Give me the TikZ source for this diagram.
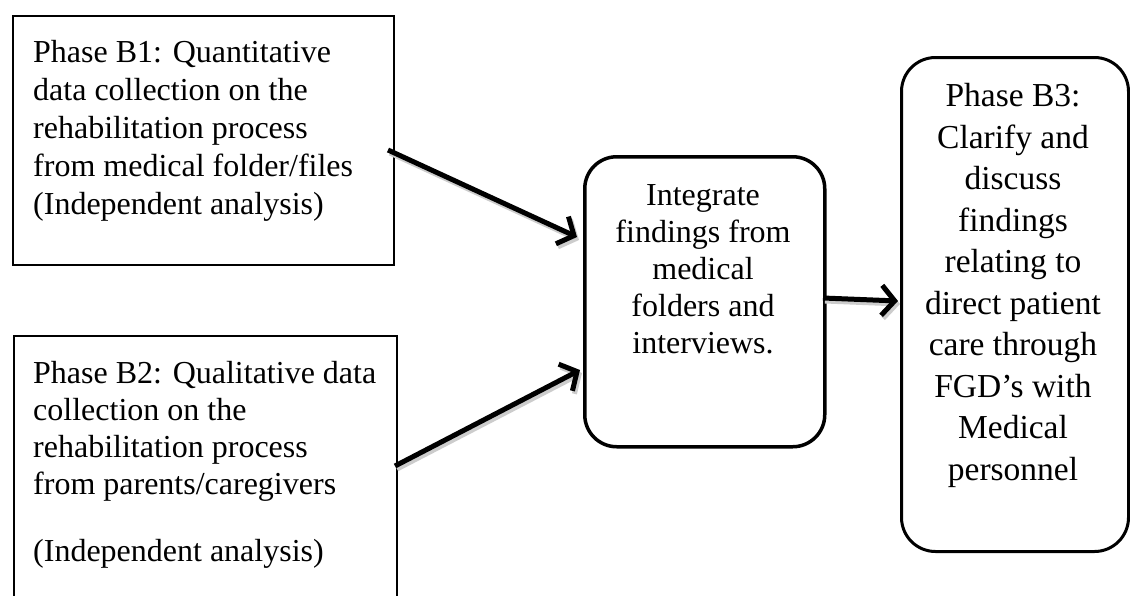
\documentclass[tikz,border=0pt]{standalone}
\usepackage{fontspec}
\setmainfont{Liberation Serif}
\usetikzlibrary{arrows.meta}
\begin{document}
\begin{tikzpicture}[x=1pt,y=-1pt,
  txt/.style={font=\fontsize{32}{37}\selectfont, inner sep=0pt},
  sqbox/.style={draw, line width=2pt, anchor=north west, inner sep=0pt},
  rbox/.style={draw, line width=3.5pt, rounded corners=32pt, anchor=north west, inner sep=0pt},
  arr/.style={line width=5pt, -{Straight Barb[length=13pt,width=30pt,line width=5pt]},
    preaction={draw=black!20, line width=5pt, transform canvas={shift={(2pt,-3pt)}}}}
]
\useasboundingbox[fill=white] (0,0) rectangle (1130,595);
% boxes
\node[sqbox, minimum width=381pt, minimum height=249pt] (b1) at (12,15) {};
\node[sqbox, minimum width=383pt, minimum height=300pt] (b2) at (13,335) {};
\node[rbox, minimum width=240pt, minimum height=290pt] (mid) at (583,155) {};
\node[rbox, line width=3pt, rounded corners=34pt, minimum width=227pt, minimum height=494pt] (b3) at (900,56) {};
% texts (anchor = baseline of last line)
\node[txt, font=\fontsize{32}{38}\selectfont, align=left, anchor=base west] (t1) at (33,214)
  {Phase B1: Quantitative\\data collection on the\\rehabilitation process\\from medical folder/files\\(Independent analysis)};
\node[txt, align=left, anchor=base west] (t2) at (33,561)
  {Phase B2: Qualitative data\\collection on the\\rehabilitation process\\from parents/caregivers\\[30pt](Independent analysis)};
\node[txt, align=center, anchor=base] (tm) at (703,353)
  {Integrate\\findings from\\medical\\folders and\\interviews.};
\node[txt, font=\fontsize{33.5}{41.5}\selectfont, align=center, anchor=base] (t3) at (1013,480)
  {Phase B3:\\Clarify and\\discuss\\findings\\relating to\\direct patient\\care through\\FGD’s with\\Medical\\personnel};
% arrows
\coordinate (s1) at (388,150);
\coordinate (e1) at (577,237);
\coordinate (s2) at (395,466);
\coordinate (e2) at (580,370);
\coordinate (s3) at (823,298);
\coordinate (e3) at (898,301);
\draw[arr] (s1) -- (e1);
\draw[arr] (s2) -- (e2);
\draw[arr] (s3) -- (e3);
\end{tikzpicture}
\end{document}
